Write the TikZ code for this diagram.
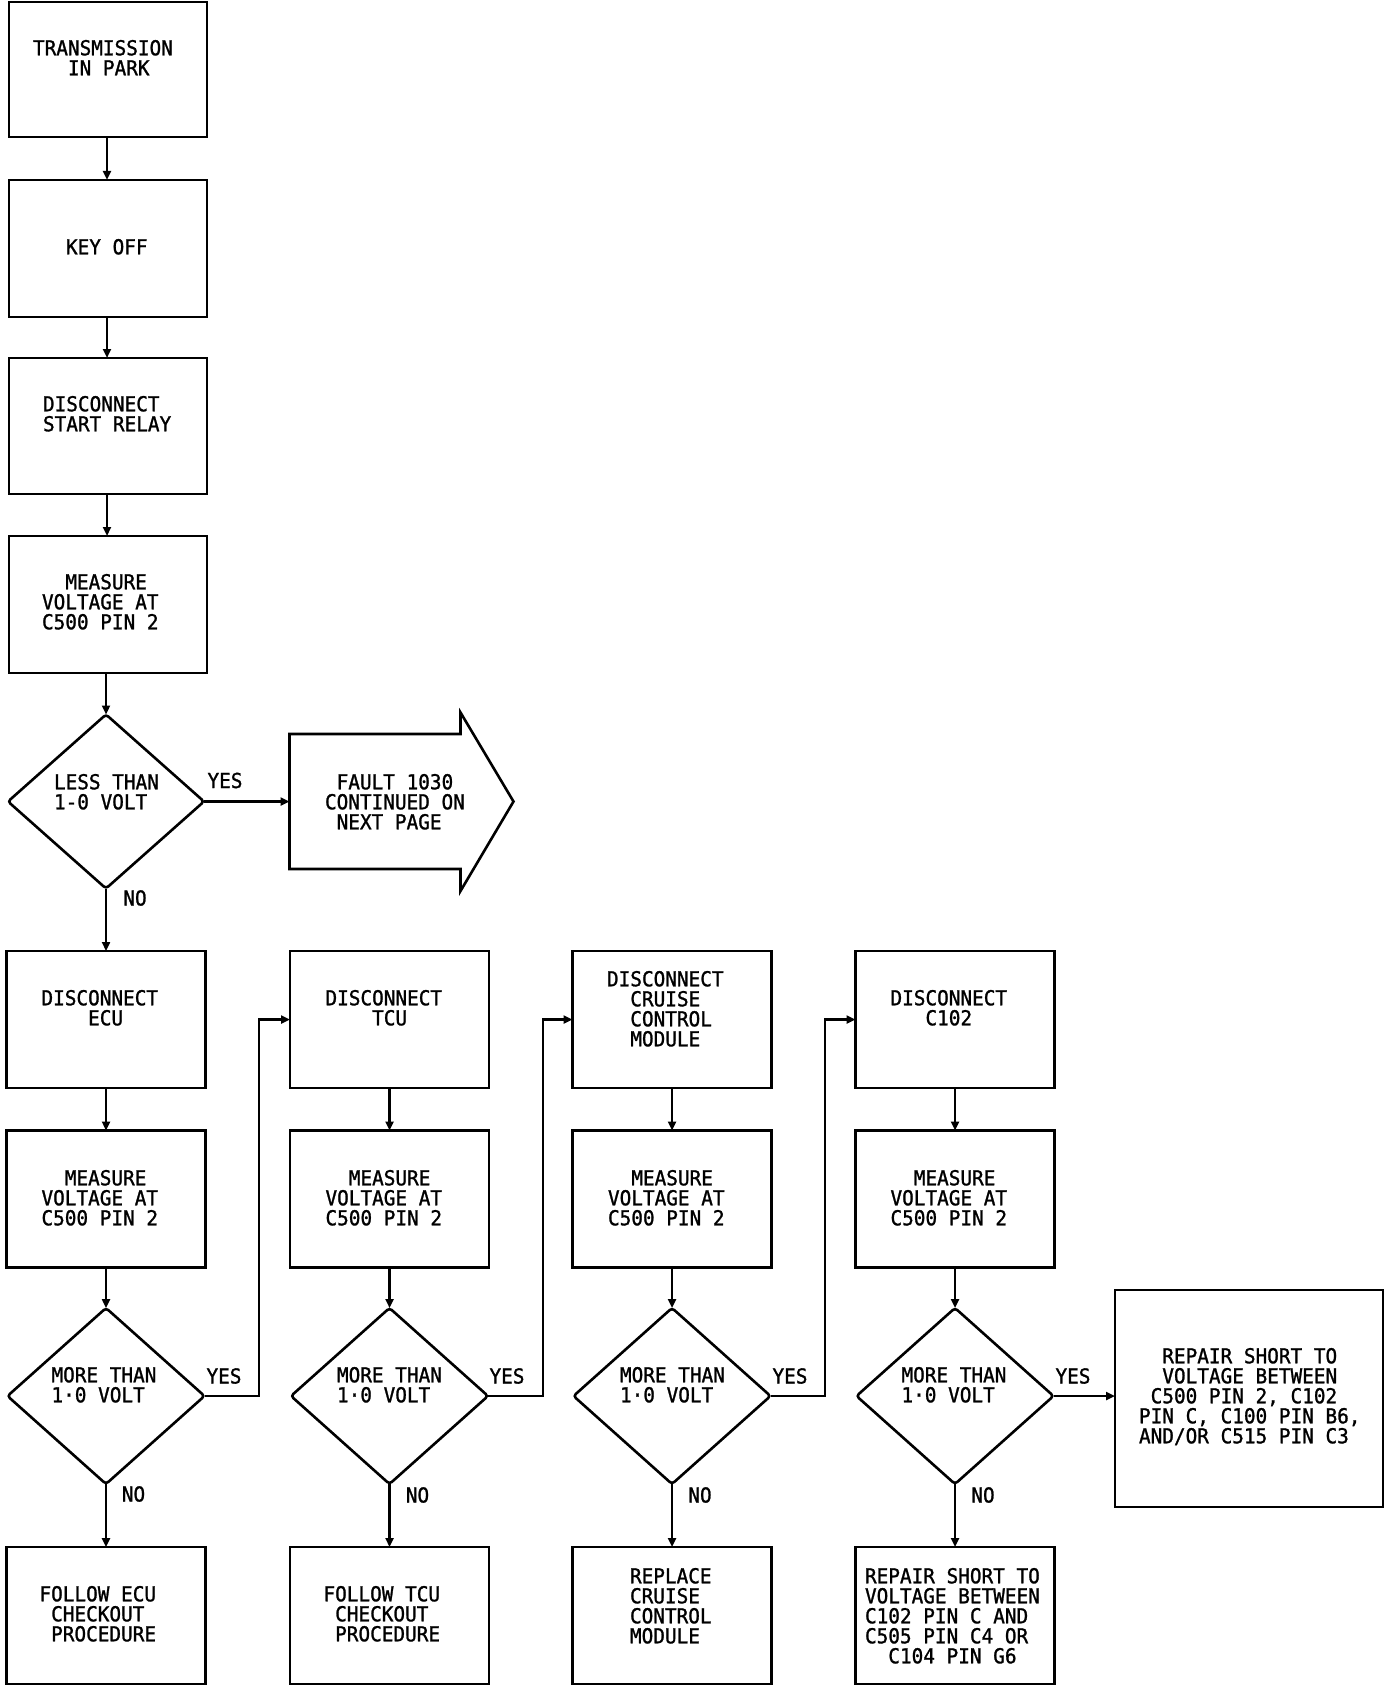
\documentclass[tikz,border=0pt]{standalone}
\usepackage{fontspec}
\usetikzlibrary{arrows.meta,shapes.geometric}
\newfontfamily\flowfont[FakeStretch=0.94,FakeBold=1.2]{DejaVu Sans Mono}
\newcommand\pd[1]{\hphantom{#1}}
\begin{document}
\begin{tikzpicture}[x=1pt,y=-1pt,
  every node/.style={inner sep=0pt,outer sep=0pt},
  box/.style={draw,rectangle,line width=2.6pt,minimum width=199pt,minimum height=137pt},
  tbox/.style={draw,rectangle,line width=2.6pt,minimum width=198pt,minimum height=137pt},
  dia/.style={draw,diamond,line width=2.6pt,rounded corners=3pt,minimum width=197pt,minimum height=176pt},
  txt/.style={anchor=north west,align=left,font={\flowfont\fontsize{20.6pt}{20pt}\selectfont}},
  lbl/.style={anchor=center,font={\flowfont\fontsize{20.6pt}{20pt}\selectfont}},
  arr/.style={line width=2.6pt,-{Triangle[length=9pt,width=8pt]}},
  ln/.style={line width=2.6pt}]
\useasboundingbox (0,0) rectangle (1392,1688);
\fill[white] (0,0) rectangle (1392,1688);

% top column
\node[tbox,minimum height=135pt] (b1) at (108,69.5) {};
\node[tbox] (b2) at (108,248.5) {};
\node[tbox,minimum height=136pt] (b3) at (108,426) {};
\node[tbox] (b4) at (108,604.5) {};
\node[dia,minimum width=196pt,minimum height=174pt] (d0) at (106,801.5) {};
\node[rectangle,minimum width=171pt,minimum height=135pt] (fault) at (375,801.5) {};
\draw[ln,line join=miter] (fault.north west) -- (fault.north east) -- (460.5,712.5) -- (513.5,801.5) -- (460.5,891) -- (fault.south east) -- (fault.south west) -- cycle;

\node[txt] (t1) at (33,40) {TRANSMISSION\\\pd{000}IN PARK};
\node[txt] (t2) at (66,239) {KEY OFF};
\node[txt] (t3) at (43,396) {DISCONNECT\\START RELAY};
\node[txt] (t4) at (42,574) {\pd{00}MEASURE\\VOLTAGE AT\\C500 PIN 2};
\node[txt] (td0) at (54,774) {LESS THAN\\1-0 VOLT};
\node[txt] (tf) at (325,774) {\pd{0}FAULT 1030\\CONTINUED ON\\\pd{0}NEXT PAGE};

\draw[arr] (b1.south -| 107,0) -- (b2.north -| 107,0);
\draw[arr] (b2.south -| 107,0) -- (b3.north -| 107,0);
\draw[arr] (b3.south -| 107,0) -- (b4.north -| 107,0);
\draw[arr] (b4.south -| 106,0) -- (d0.north);
\draw[arr] (d0.east) -- (fault.west);
\node[lbl] (y0) at (225,780.5) {YES};
\node[lbl] (n0) at (135,898) {NO};

% columns
\foreach \n/\cx in {A/106,B/389.5,C/672,D/955}{
  \node[box] (disc\n) at (\cx,1019.5) {};
  \node[box] (meas\n) at (\cx,1199) {};
  \node[dia] (dd\n) at (\cx,1396) {};
  \node[box] (fin\n) at (\cx,1615.5) {};
  \draw[arr] (disc\n.south) -- (meas\n.north);
  \draw[arr] (meas\n.south) -- (dd\n.north);
  \draw[arr] (dd\n.south) -- (fin\n.north);
}
\draw[arr] (d0.south) -- (d0.south |- discA.north);

\node[txt] (tdA) at (41.5,990) {DISCONNECT\\\pd{0000}ECU};
\node[txt] (tdB) at (325.5,990) {DISCONNECT\\\pd{0000}TCU};
\node[txt] (tdC) at (607,971) {DISCONNECT\\\pd{00}CRUISE\\\pd{00}CONTROL\\\pd{00}MODULE};
\node[txt] (tdD) at (890.5,990) {DISCONNECT\\\pd{000}C102};

\node[txt] (tmA) at (41.5,1170) {\pd{00}MEASURE\\VOLTAGE AT\\C500 PIN 2};
\node[txt] (tmB) at (325.5,1170) {\pd{00}MEASURE\\VOLTAGE AT\\C500 PIN 2};
\node[txt] (tmC) at (608,1170) {\pd{00}MEASURE\\VOLTAGE AT\\C500 PIN 2};
\node[txt] (tmD) at (890.5,1170) {\pd{00}MEASURE\\VOLTAGE AT\\C500 PIN 2};

\node[txt] (tqA) at (51.5,1367) {MORE THAN\\1·0 VOLT};
\node[txt] (tqB) at (337,1367) {MORE THAN\\1·0 VOLT};
\node[txt] (tqC) at (620,1367) {MORE THAN\\1·0 VOLT};
\node[txt] (tqD) at (901.5,1367) {MORE THAN\\1·0 VOLT};

\node[txt] (tfA) at (39.5,1586) {FOLLOW ECU\\\pd{0}CHECKOUT\\\pd{0}PROCEDURE};
\node[txt] (tfB) at (323.5,1586) {FOLLOW TCU\\\pd{0}CHECKOUT\\\pd{0}PROCEDURE};
\node[txt] (tfC) at (630,1568) {REPLACE\\CRUISE\\CONTROL\\MODULE};
\node[txt] (tfD) at (865,1568) {REPAIR SHORT TO\\VOLTAGE BETWEEN\\C102 PIN C AND\\C505 PIN C4 OR\\\pd{00}C104 PIN G6};

% right box
\node[draw,rectangle,line width=2.6pt,minimum width=268pt,minimum height=217pt] (rbox) at (1249,1398.5) {};
\node[txt] (tr) at (1139,1348) {\pd{00}REPAIR SHORT TO\\\pd{00}VOLTAGE BETWEEN\\\pd{0}C500 PIN 2, C102\\PIN C, C100 PIN B6,\\AND/OR C515 PIN C3};

% loops
\coordinate (lA) at (259,1396);
\coordinate (lB) at (543,1396);
\coordinate (lC) at (825,1396);
\draw[arr] (ddA.east) -- (lA) |- (discB.west);
\draw[arr] (ddB.east) -- (lB) |- (discC.west);
\draw[arr] (ddC.east) -- (lC) |- (discD.west);
\draw[arr] (ddD.east) -- (ddD.east -| rbox.west);

% labels
\node[lbl] (yA) at (224,1376) {YES};
\node[lbl] (nA) at (133.5,1494) {NO};
\node[lbl] (yB) at (507,1376) {YES};
\node[lbl] (nB) at (417.5,1495) {NO};
\node[lbl] (yC) at (790,1376) {YES};
\node[lbl] (nC) at (700,1495) {NO};
\node[lbl] (yD) at (1073,1376) {YES};
\node[lbl] (nD) at (983,1495) {NO};
\end{tikzpicture}
\end{document}
